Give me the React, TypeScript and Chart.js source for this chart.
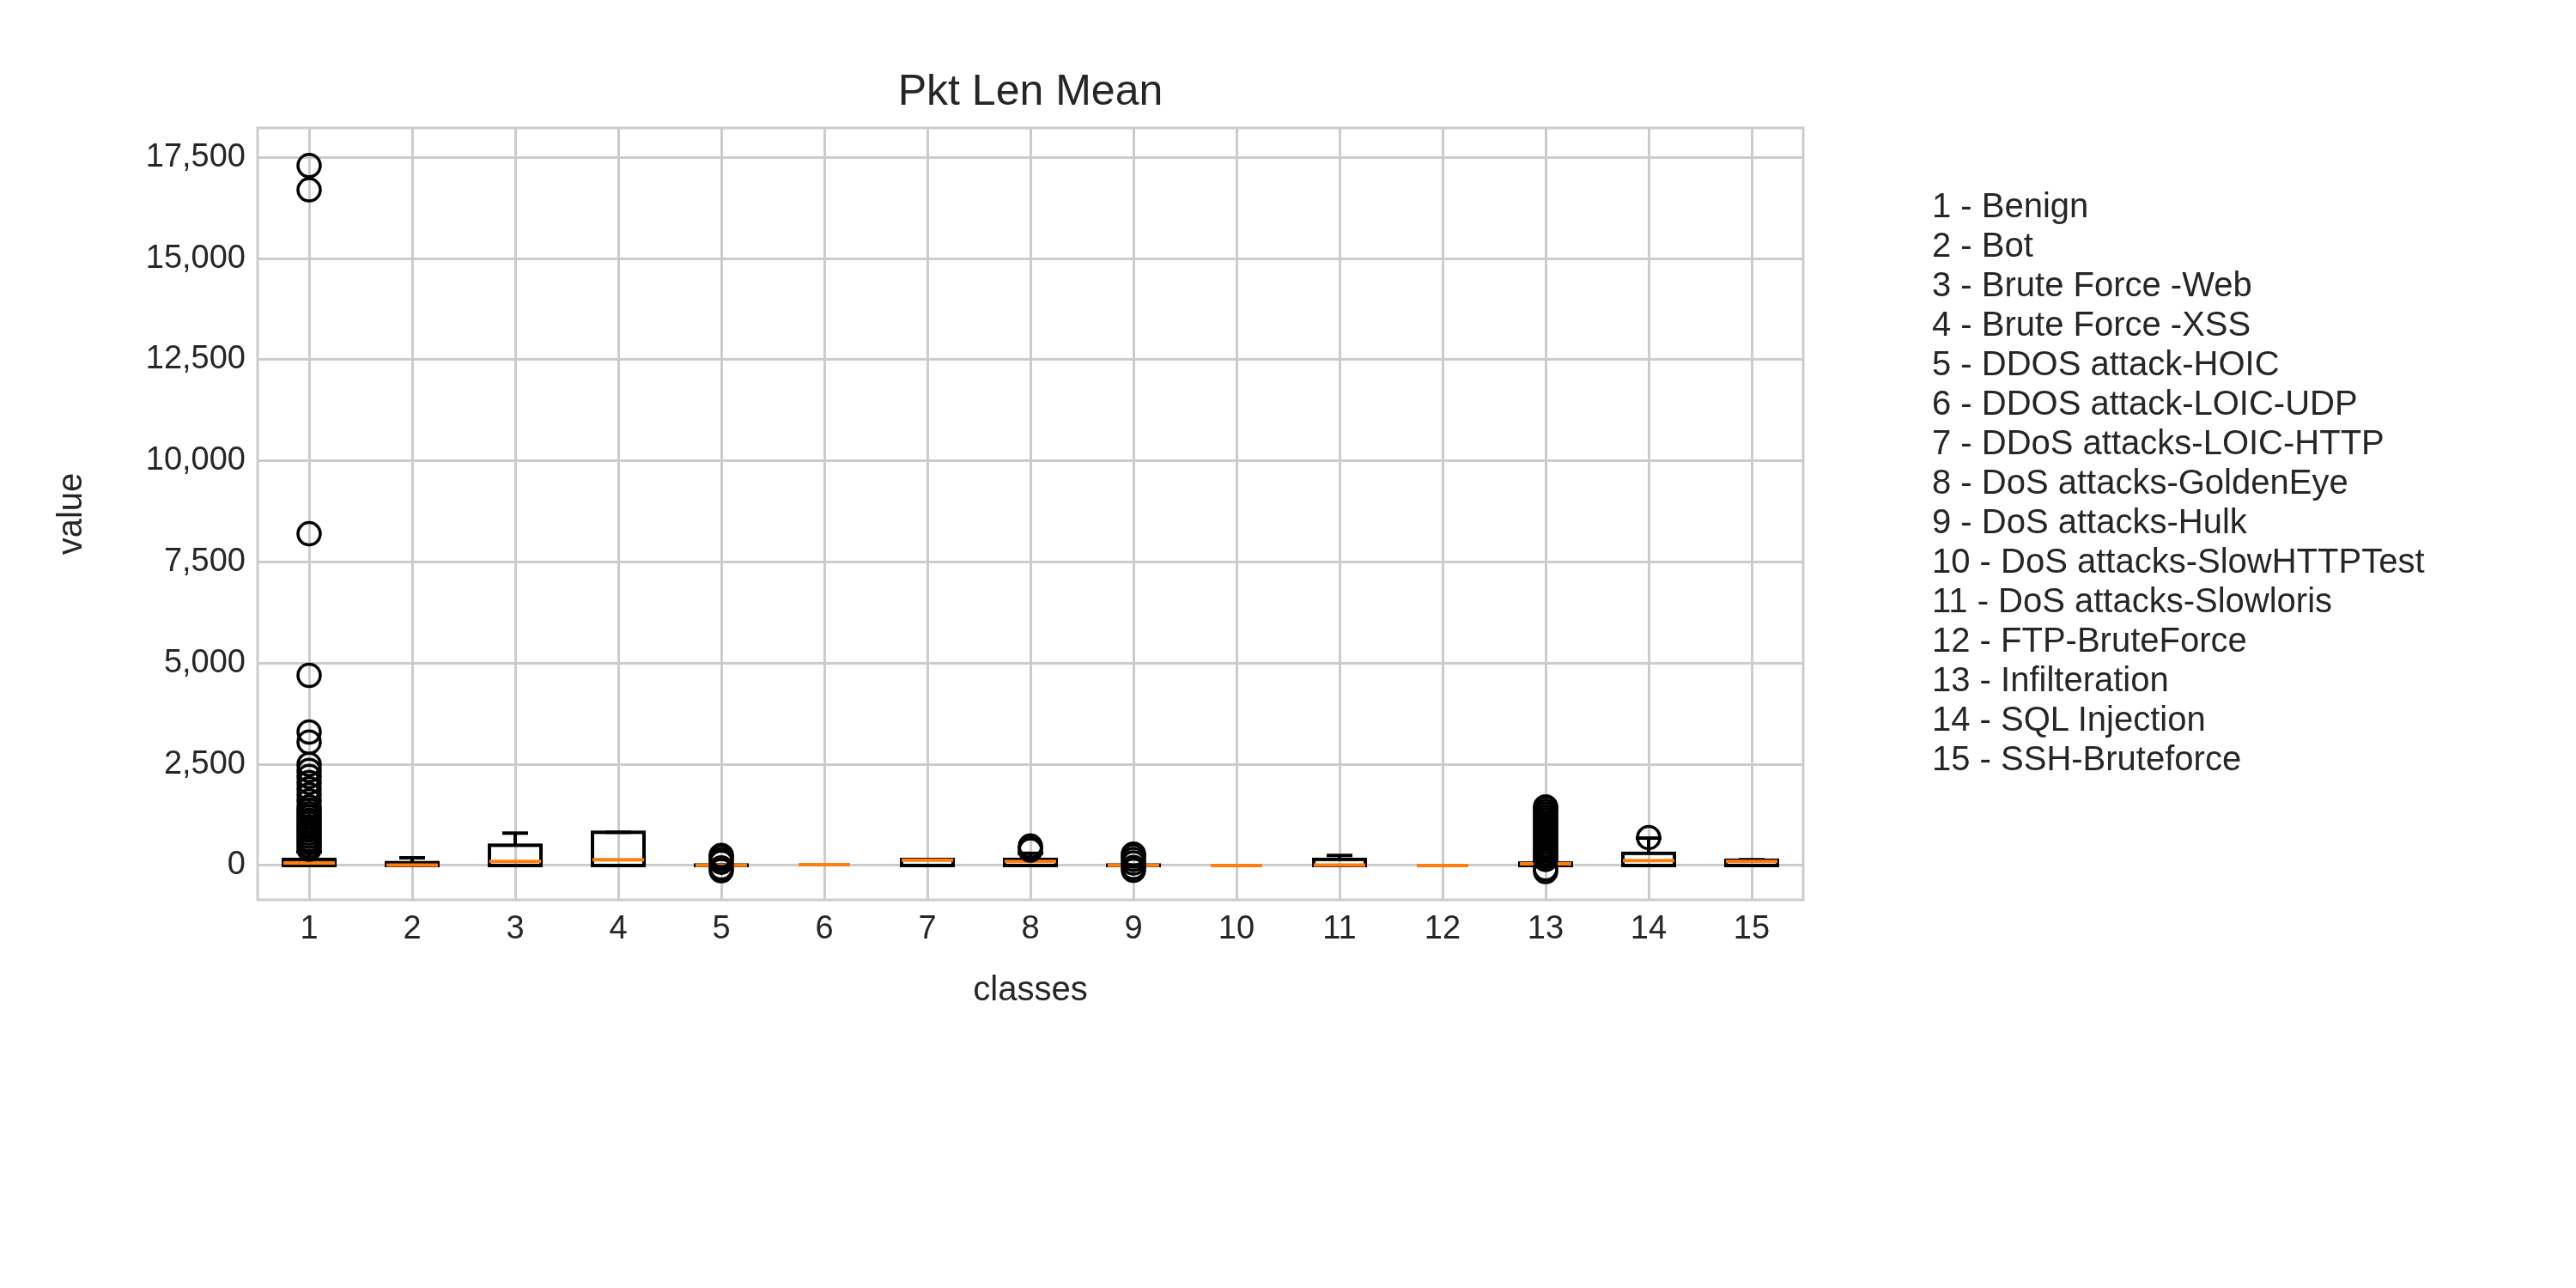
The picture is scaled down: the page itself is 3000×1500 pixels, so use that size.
import React, { useEffect, useRef } from "react";
import { Chart, registerables } from "chart.js";
Chart.register(...registerables);

const classes = ["1","2","3","4","5","6","7","8","9","10","11","12","13","14","15"];
const legendLabels = [
  "1 - Benign","2 - Bot","3 - Brute Force -Web","4 - Brute Force -XSS","5 - DDOS attack-HOIC",
  "6 - DDOS attack-LOIC-UDP","7 - DDoS attacks-LOIC-HTTP","8 - DoS attacks-GoldenEye","9 - DoS attacks-Hulk",
  "10 - DoS attacks-SlowHTTPTest","11 - DoS attacks-Slowloris","12 - FTP-BruteForce","13 - Infilteration",
  "14 - SQL Injection","15 - SSH-Bruteforce",
];
const whiskerLow = [0, 0, 0, 0, 0, 20, 0, 0, 0, 0, 0, 0, 0, 0, 0];
const q1 = [0, 0, 0, 0, 0, 20, 0, 0, 0, 0, 0, 0, 0, 0, 0];
const median = [60, 10, 100, 140, 5, 20, 130, 100, 5, 0, 10, 0, 40, 120, 100];
const q3 = [150, 70, 500, 820, 10, 20, 150, 150, 10, 0, 150, 0, 60, 300, 130];
const whiskerHigh = [340, 190, 800, 820, 10, 20, 150, 300, 10, 0, 250, 0, 100, 680, 140];
const outliers1 = [400, 480, 560, 640, 720, 800, 880, 960, 1040, 1120, 1200, 1280, 1360, 1450, 1600, 1750, 1900, 2050, 2200, 2350, 2500, 3050, 3300, 4700, 8200, 16700, 17300];
const outliers5 = [-130, -60, 80, 150, 220, 250];
const outliers8 = [380, 430, 480];
const outliers9 = [-120, -50, 60, 150, 230, 280];
const outliers13 = [-150, -80, 150, 220, 290, 360, 430, 500, 570, 640, 710, 780, 850, 920, 990, 1060, 1130, 1200, 1270, 1340, 1420, 1450];
const outliers14 = [690];

export default function App() {
  const ref = useRef<HTMLCanvasElement>(null);
  useEffect(() => {
    document.body.style.margin = "0";
    const pts: { x: number; y: number }[] = [];
    const add = (c: number, arr: number[]) => arr.forEach((v) => pts.push({ x: c, y: v }));
    add(1, outliers1); add(5, outliers5); add(8, outliers8); add(9, outliers9); add(13, outliers13); add(14, outliers14);
    const font = "'Liberation Sans', Arial, sans-serif";
    const boxPlugin = {
      id: "box",
      beforeDatasetsDraw(chart: any) {
        const { ctx, chartArea: a, scales } = chart;
        const xs = scales.x, ys = scales.y;
        ctx.save();
        ctx.strokeStyle = "#ccc"; ctx.lineWidth = 3;
        ctx.strokeRect(a.left, a.top, a.right - a.left, a.bottom - a.top);
        ctx.lineWidth = 4;
        for (let i = 0; i < classes.length; i++) {
          const cx = xs.getPixelForValue(i + 1);
          const hw = (xs.getPixelForValue(1.25) - xs.getPixelForValue(1));
          const cw = hw / 2;
          const y = (v: number) => ys.getPixelForValue(v);
          ctx.strokeStyle = "#000";
          ctx.strokeRect(cx - hw, y(q3[i]), 2 * hw, y(q1[i]) - y(q3[i]));
          ctx.beginPath();
          ctx.moveTo(cx, y(q3[i])); ctx.lineTo(cx, y(whiskerHigh[i]));
          ctx.moveTo(cx - cw, y(whiskerHigh[i])); ctx.lineTo(cx + cw, y(whiskerHigh[i]));
          ctx.moveTo(cx, y(q1[i])); ctx.lineTo(cx, y(whiskerLow[i]));
          ctx.moveTo(cx - cw, y(whiskerLow[i])); ctx.lineTo(cx + cw, y(whiskerLow[i]));
          ctx.stroke();
          ctx.strokeStyle = "#ff7f0e";
          ctx.beginPath();
          ctx.moveTo(cx - hw, y(median[i])); ctx.lineTo(cx + hw, y(median[i]));
          ctx.stroke();
        }
        ctx.fillStyle = "#262626";
        ctx.font = `50px ${font}`;
        ctx.textAlign = "center"; ctx.textBaseline = "middle";
        ctx.fillText("Pkt Len Mean", (a.left + a.right) / 2, 108);
        ctx.restore();
      },
    };
    const chart = new Chart(ref.current!, {
      type: "scatter",
      data: {
        datasets: [{
          data: pts,
          pointStyle: "circle",
          pointRadius: 13,
          backgroundColor: "rgba(0,0,0,0)",
          borderColor: "#000",
          pointBorderWidth: 3.5,
        } as any],
      },
      options: {
        animation: false,
        responsive: false,
        layout: { padding: { left: 60, top: 149, right: 900, bottom: 322 } },
        plugins: { legend: { display: false }, tooltip: { enabled: false } },
        scales: {
          x: {
            type: "linear", min: 0.5, max: 15.5,
            afterBuildTicks: (s: any) => { s.ticks = classes.map((_, i) => ({ value: i + 1 })); },
            afterFit: (s: any) => { s.height = 130; },
            ticks: { font: { size: 38, family: font }, color: "#262626", padding: 12,
              callback: (v: any) => classes[Number(v) - 1] },
            grid: { color: "#ccc", lineWidth: 3, drawTicks: false },
            border: { display: false },
            title: { display: true, text: "classes", font: { size: 40, family: font }, color: "#262626", padding: 0 },
          },
          y: {
            min: -850, max: 18230,
            afterBuildTicks: (s: any) => { s.ticks = [0, 2500, 5000, 7500, 10000, 12500, 15000, 17500].map((v) => ({ value: v })); },
            afterFit: (s: any) => { s.width = 240; },
            ticks: { font: { size: 38, family: font }, color: "#262626", padding: 14 },
            grid: { color: "#ccc", lineWidth: 3, drawTicks: false },
            border: { display: false },
            title: { display: true, text: "value", font: { size: 40, family: font }, color: "#262626", padding: 0 },
          },
        },
      } as any,
      plugins: [boxPlugin],
    });
    return () => chart.destroy();
  }, []);
  return (
    <div style={{ position: "relative", width: 3000, height: 1500, background: "#fff" }}>
      <canvas ref={ref} width={3000} height={1500} style={{ width: 3000, height: 1500 }} />
      <div style={{ position: "absolute", left: 2250, top: 216, fontFamily: "'Liberation Sans', Arial, sans-serif",
        fontSize: 40, lineHeight: "46px", color: "#262626" }}>
        {legendLabels.map((l) => <div key={l}>{l}</div>)}
      </div>
    </div>
  );
}
